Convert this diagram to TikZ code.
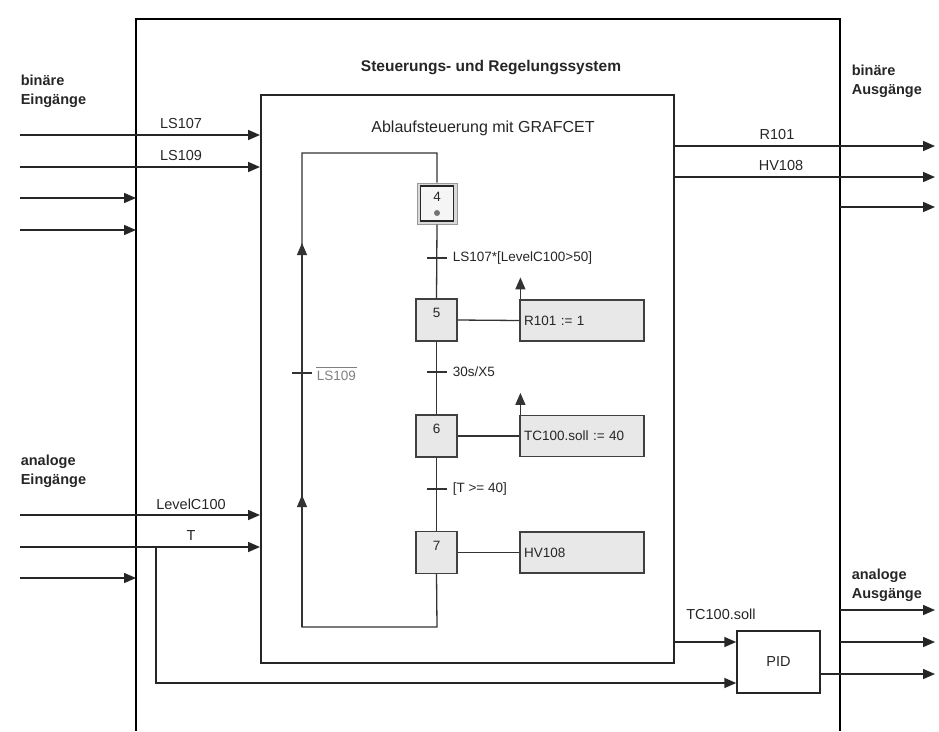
\documentclass[tikz,border=0pt]{standalone}
\usepackage{fontspec}
\setmainfont{Liberation Sans}
\usetikzlibrary{arrows.meta}
\begin{document}
\begin{tikzpicture}[x=1pt,y=-1pt,
 line width=1.6pt, draw=black!85,
 arr/.style={-{Triangle[length=12pt,width=10pt]}},
 lbl/.style={font=\fontsize{14.5}{17}\selectfont, inner sep=0pt, text=black!85},
 head/.style={font=\fontsize{14.5}{19.5}\selectfont\bfseries, align=left, anchor=north west, inner sep=0pt, text=black!85},
 gtxt/.style={font=\fontsize{13.5}{16}\selectfont, text=black!85, inner sep=0pt},
 stepbox/.style={draw=black!75, fill=black!9, line width=1.2pt, minimum width=41pt, minimum height=42pt, inner sep=0pt},
 actbox/.style={draw=black!75, fill=black!9, line width=1.2pt, minimum width=124pt, minimum height=41pt, inner sep=0pt, text width=116pt, align=left, font=\fontsize{13.5}{16}\selectfont, text=black!85},
 gline/.style={line width=1.3pt, draw=black!80},
]
\useasboundingbox (0,0) rectangle (939,731);

% outer system box (open at the bottom)
\draw[line width=2.6pt, draw=black] (136,731) -- (136,19) -- (840,19) -- (840,731);
\node[lbl, font=\fontsize{15.5}{18}\selectfont\bfseries] (title) at (491,68) {Steuerungs- und Regelungssystem};

% inner GRAFCET box
\node[draw, line width=1.5pt, minimum width=413pt, minimum height=568pt, anchor=north west, inner sep=0pt] (ctl) at (260,94) {};
\node[lbl, font=\fontsize{16}{18}\selectfont] (ctltitle) at (483,128) {Ablaufsteuerung mit GRAFCET};

% headings
\node[head] (binin) at (20,74) {binäre\\Eingänge};
\node[head] (anin) at (20,454) {analoge\\Eingänge};
\node[head] (binout) at (851,64) {binäre\\Ausgänge};
\node[head] (anout) at (851,568) {analoge\\Ausgänge};

% binary inputs
\coordinate (i1) at (20,135);
\coordinate (i2) at (20,167);
\coordinate (i3) at (20,198);
\coordinate (i4) at (20,230);
\draw[arr] (i1) -- (i1 -| ctl.west);
\draw[arr] (i2) -- (i2 -| ctl.west);
\draw[arr] (i3) -- (136,198);
\draw[arr] (i4) -- (136,230);
\node[lbl] (ls107) at (181,124) {LS107};
\node[lbl] (ls109) at (181,156) {LS109};

% analog inputs
\coordinate (a1) at (20,515);
\coordinate (a2) at (20,547);
\coordinate (a3) at (20,578);
\draw[arr] (a1) -- (a1 -| ctl.west);
\draw[arr] (a2) -- (a2 -| ctl.west);
\draw[arr] (a3) -- (136,578);
\node[lbl] (lvl) at (191,504) {LevelC100};
\node[lbl] (tlbl) at (191,536) {T};

% binary outputs
\coordinate (o1) at (935,146);
\coordinate (o2) at (935,177);
\coordinate (o3) at (935,207);
\draw[arr] (o1 -| ctl.east) -- (o1);
\draw[arr] (o2 -| ctl.east) -- (o2);
\draw[arr] (840,207) -- (o3);
\node[lbl] (r101) at (777,135) {R101};
\node[lbl] (hv108) at (781,166) {HV108};

% PID and analog outputs
\node[draw, line width=1.5pt, minimum width=83pt, minimum height=62pt, inner sep=0pt, font=\fontsize{14.5}{17}\selectfont, text=black!85] (pid) at (778.5,662) {PID};
\coordinate (p1) at (935,610);
\coordinate (p2) at (935,642);
\coordinate (p3) at (935,674);
\draw[arr] (840,610) -- (p1);
\draw[arr] (840,642) -- (p2);
\draw[arr] ([yshift=-12pt]pid.east) -- (p3);
\draw[arr] (673,642) -- ([yshift=20pt]pid.west);
\node[lbl] (tcsoll) at (721,614) {TC100.soll};
\coordinate (tb) at (156,547);
\draw[arr] (tb) |- ([yshift=-21pt]pid.west);

% GRAFCET steps
\node[draw=black!40, fill=black!15, line width=1pt, minimum width=40pt, minimum height=41pt, inner sep=0pt] (s4o) at (437,203.5) {};
\node[draw=black!85, fill=black!4, line width=1.3pt, minimum width=33pt, minimum height=35pt, inner sep=0pt] (s4) at (437,203.5) {};
\node[gtxt] (n4) at (437,197) {4};
\fill[black!55] (437,213) circle (3pt);

\node[stepbox] (s5) at (436.5,320) {};
\node[gtxt] (n5) at (436.5,313) {5};
\node[stepbox] (s6) at (436.5,436) {};
\node[gtxt] (n6) at (436.5,429) {6};
\node[stepbox] (s7) at (436.5,552.5) {};
\node[gtxt] (n7) at (436.5,545.5) {7};

% action boxes
\node[actbox] (act5) at (582,320.5) {R101 := 1};
\node[actbox] (act6) at (582,436) {TC100.soll := 40};
\node[actbox] (act7) at (582,552.5) {HV108};
\draw[gline] (s5.east) -- (act5.west);
\draw[gline] (s6.east) -- (act6.west);
\draw[gline] (s7.east) -- (act7.west);
\draw[gline, arr] ([xshift=1pt]act5.north west) -- ++(0,-22);
\draw[gline, arr] ([xshift=1pt]act6.north west) -- ++(0,-22);

% sequence lines and loop
\coordinate (rt) at (437,153);
\coordinate (lt) at (302,153);
\coordinate (lb) at (302,627);
\coordinate (rb) at (437,627);
\draw[gline] (s4o.north) -- (rt) -- (lt) -- (lb) -- (rb) -- (s7.south);
\draw[gline] (s4o.south) -- (s5.north);
\draw[gline] (s5.south) -- (s6.north);
\draw[gline] (s6.south) -- (s7.north);
\draw[gline, arr] (lb) -- (302,495);
\draw[gline, arr] (lb) -- (302,243);

% transitions
\coordinate (t1) at (437,258);
\coordinate (t2) at (437,372);
\coordinate (t3) at (437,489);
\coordinate (t4) at (302,373);
\foreach \t in {t1,t2,t3,t4} \draw[gline] ([xshift=-10pt]\t) -- ([xshift=10pt]\t);
\node[gtxt, anchor=west] (c1) at (452,258) {LS107*[LevelC100>50]};
\node[gtxt, anchor=west] (c2) at (452,372) {30s/X5};
\node[gtxt, anchor=west] (c3) at (452,489) {[T >= 40]};
\node[gtxt, anchor=west, text=black!50] (c4) at (316,376) {LS109};
\draw[line width=0.9pt, draw=black!50] ([yshift=3pt]c4.north west) -- ([yshift=3pt]c4.north east);
\end{tikzpicture}
\end{document}
